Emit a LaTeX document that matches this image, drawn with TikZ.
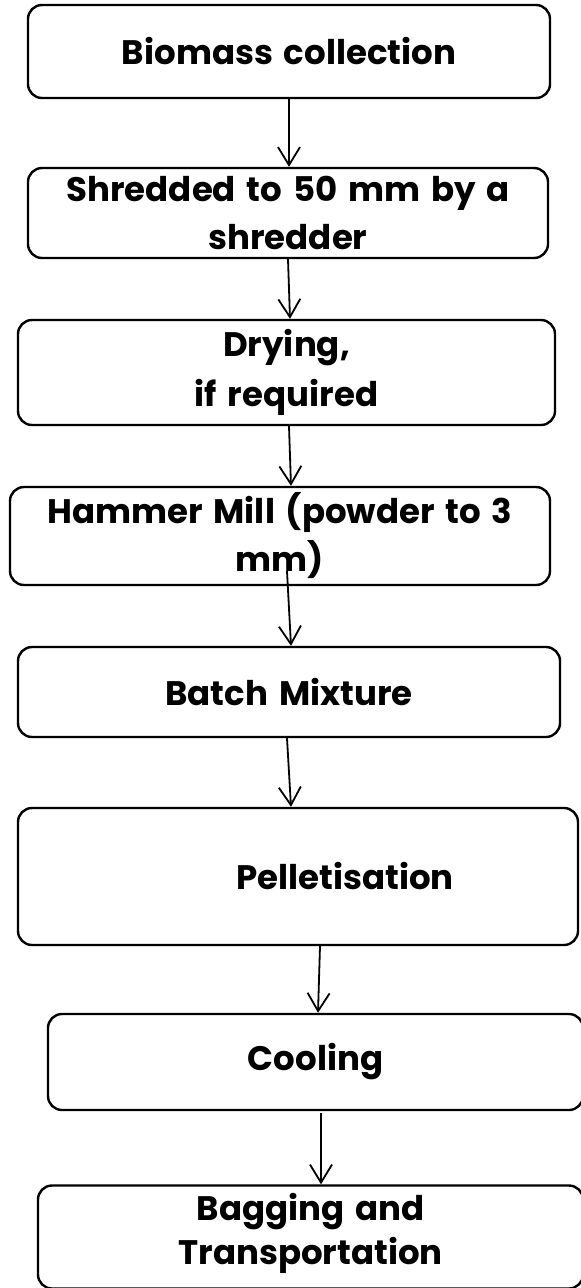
\documentclass[tikz,border=0pt]{standalone}
\usepackage{fontspec}
\setmainfont{Poppins}[WordSpace=1.5]
\usetikzlibrary{arrows.meta}
\tikzset{box/.style={draw,line width=2.4pt,rounded corners=14pt,align=center,inner sep=0pt,
  font=\bfseries\fontsize{34}{48}\selectfont},
  arr/.style={line width=1.8pt,-{Straight Barb[length=18pt,width=22pt]}}}
\begin{document}
\begin{tikzpicture}[x=1pt,y=-1pt]
\useasboundingbox (0,0) rectangle (581,1288);
\node[box,minimum width=522pt,minimum height=93pt](b1) at (289,51.5){Biomass collection};
\node[box,minimum width=520pt,minimum height=90pt](b2) at (288,213){Shredded to 50 mm by a\\shredder};
\node[box,minimum width=537pt,minimum height=105pt](b3) at (286.5,372.5){Drying,\\[2pt]if required};
\node[box,minimum width=540pt,minimum height=98pt](b4) at (280,536){Hammer Mill (powder to 3\\mm)};
\node[box,minimum width=542pt,minimum height=90pt](b5) at (289,692){Batch Mixture};
\node[box,minimum width=560pt,minimum height=137pt](b6) at (298,876.5){\hspace*{94pt}Pelletisation};
\node[box,minimum width=535pt,minimum height=96pt](b7) at (315.5,1062){Cooling};
\node[box,minimum width=545pt,minimum height=103pt](b8) at (310.5,1237){Bagging and\\[-4pt]Transportation\\[-31pt]\mbox{}};
\draw[arr](b1.south)--([xshift=1pt]b2.north);
\draw[arr](b2.south)--([xshift=3.5pt]b3.north);
\draw[arr]([xshift=2.5pt]b3.south)--([xshift=11pt]b4.north);
\draw[arr]([xshift=7pt,yshift=15pt]b4.south)--([xshift=2pt]b5.north);
\draw[arr]([xshift=-2pt]b5.south)--([xshift=-7pt]b6.north);
\draw[arr]([xshift=22pt]b6.south)--([xshift=2.5pt]b7.north);
\draw[arr]([xshift=5.5pt,yshift=-2pt]b7.south)--([xshift=10.5pt]b8.north);
\end{tikzpicture}
\end{document}
